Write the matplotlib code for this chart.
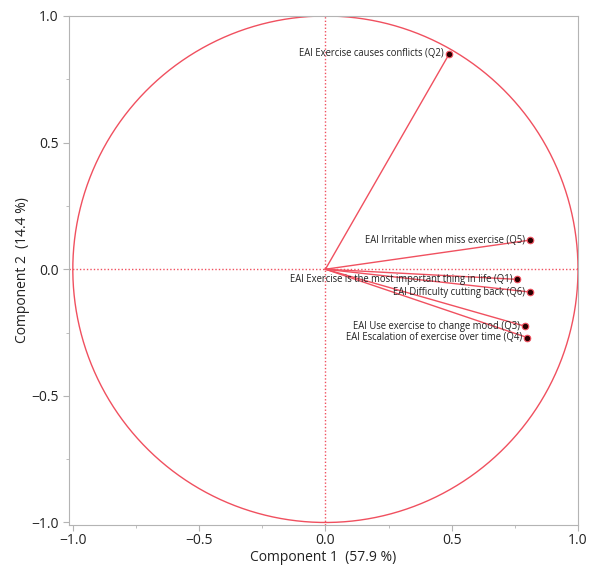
import numpy as np
import matplotlib.pyplot as plt
from matplotlib.ticker import MultipleLocator

plt.rcParams['font.family'] = ['Open Sans', 'DejaVu Sans']

labels = ["EAI Exercise causes conflicts (Q2)",
          "EAI Irritable when miss exercise (Q5)",
          "EAI Exercise is the most important thing in life (Q1)",
          "EAI Difficulty cutting back (Q6)",
          "EAI Use exercise to change mood (Q3)",
          "EAI Escalation of exercise over time (Q4)"]
comp1 = [0.49, 0.81, 0.76, 0.81, 0.79, 0.80]
comp2 = [0.85, 0.115, -0.04, -0.09, -0.225, -0.27]

red = '#f0505f'
grey = '#b4b4b4'

fig = plt.figure(figsize=(5.96, 5.69), dpi=100)
ax = fig.add_axes([0.1158, 0.0773, 0.854, 0.8946])

t = np.linspace(0, 2 * np.pi, 400)
ax.plot(np.cos(t), np.sin(t), color=red, lw=1)
ax.axhline(0, color=red, lw=1, ls=(0, (1, 1.5)))
ax.axvline(0, color=red, lw=1, ls=(0, (1, 1.5)))

for lab, x, y in zip(labels, comp1, comp2):
    ax.plot([0, x], [0, y], color=red, lw=1)
    ax.scatter(x, y, s=22, color='#2a0000', edgecolors=red, linewidths=0.8, zorder=5)
    ax.text(x - 0.02, y, lab, fontsize=6.85, ha='right', va='center', color='#222222')

ax.set_xlim(-1.015, 1.0)
ax.set_ylim(-1.01, 1.0)
ax.xaxis.set_major_locator(MultipleLocator(0.5))
ax.yaxis.set_major_locator(MultipleLocator(0.5))
ax.xaxis.set_minor_locator(MultipleLocator(0.25))
ax.yaxis.set_minor_locator(MultipleLocator(0.25))
ax.tick_params(which='both', color=grey, labelsize=10, labelcolor='#222222')
ax.tick_params(which='major', length=4)
ax.tick_params(which='minor', length=2)
ax.tick_params(axis='x', pad=2)
for s in ax.spines.values():
    s.set_color(grey)

ax.set_xlabel("Component 1  (57.9 %)", fontsize=10, color='#222222', labelpad=1)
ax.set_ylabel("Component 2  (14.4 %)", fontsize=10, color='#222222', labelpad=1)

fig.savefig('out.png', dpi=100)
